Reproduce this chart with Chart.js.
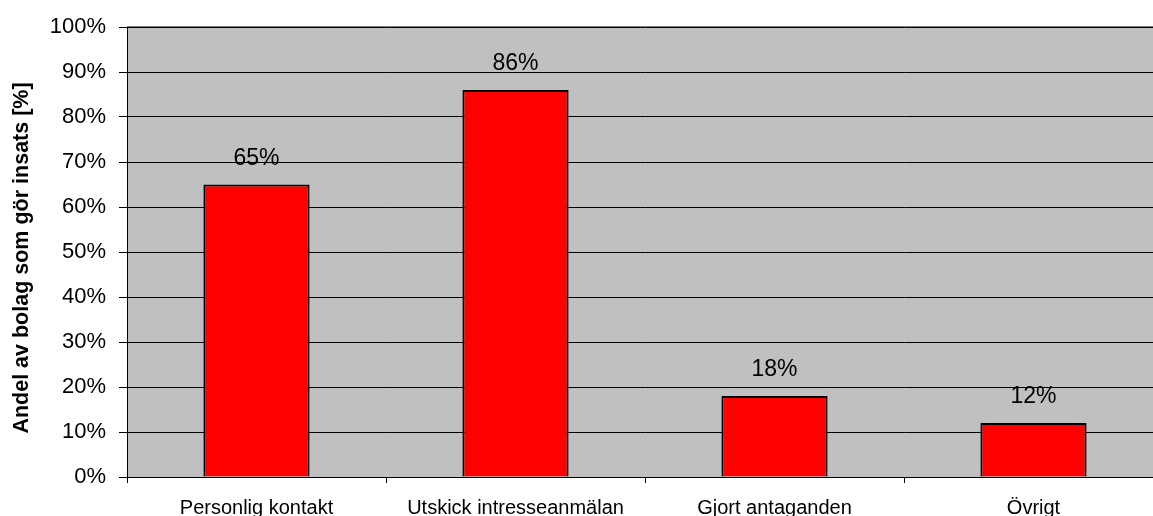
<!DOCTYPE html>
<html>
<head>
<meta charset="utf-8">
<script src="https://cdn.jsdelivr.net/npm/chart.js@4/dist/chart.umd.min.js"></script>
<style>
  html, body { margin: 0; padding: 0; background: #fff; overflow: hidden; }
  #wrap { width: 1163px; height: 516px; }
</style>
</head>
<body>
<div id="wrap"><canvas id="c"></canvas></div>
<script>
// Andel bolag per typ av insats
const categories = ["Personlig kontakt", "Utskick intresseanmälan", "Gjort antaganden", "Övrigt"];
const shares = [65, 86, 18, 12];
const yTicks = [0, 10, 20, 30, 40, 50, 60, 70, 80, 90, 100];
const yTitle = "Andel av bolag som gör insats [%]";

const FONT = "'Liberation Sans', Arial, sans-serif";

// Grå plotyta + grå ram upptill
const plotBg = {
  id: "plotBg",
  beforeDraw(chart) {
    const { ctx, chartArea: a } = chart;
    ctx.save();
    ctx.fillStyle = "#c0c0c0";
    ctx.fillRect(a.left, a.top, a.right - a.left, a.bottom - a.top);
    ctx.strokeStyle = "#808080";
    ctx.lineWidth = 1;
    ctx.beginPath();
    ctx.moveTo(a.left, a.top - 0.5);
    ctx.lineTo(a.right, a.top - 0.5);
    ctx.stroke();
    ctx.restore();
  },
};

// Procentetiketter ovanför staplarna + axeltitel (ritas själv för att kunna placeras fritt)
const labels = {
  id: "labels",
  afterDatasetsDraw(chart) {
    const { ctx, chartArea: a } = chart;
    const meta = chart.getDatasetMeta(0);
    ctx.save();
    ctx.font = "23px " + FONT;
    ctx.fillStyle = "#000";
    ctx.textAlign = "center";
    ctx.textBaseline = "alphabetic";
    meta.data.forEach((bar, i) => {
      ctx.fillText(shares[i] + "%", bar.x, bar.y - 20);
    });
    ctx.translate(22, (a.top + a.bottom) / 2 + 6);
    ctx.rotate(-Math.PI / 2);
    ctx.font = "bold 21.5px " + FONT;
    ctx.textBaseline = "middle";
    ctx.fillText(yTitle, 0, 0);
    ctx.restore();
  },
};

new Chart(document.getElementById("c"), {
  type: "bar",
  data: {
    labels: categories,
    datasets: [{
      data: shares,
      backgroundColor: "#ff0000",
      borderColor: "#000",
      borderWidth: 2,
      categoryPercentage: 1,
      barPercentage: 0.41,
    }],
  },
  options: {
    responsive: true,
    maintainAspectRatio: false,
    animation: false,
    layout: { padding: { top: 27, left: 0, right: 0, bottom: 0 } },
    plugins: { legend: { display: false }, tooltip: { enabled: false } },
    scales: {
      x: {
        grid: { offset: true, drawOnChartArea: false, color: "#000", tickLength: 6 },
        border: { color: "#000", width: 1 },
        ticks: { color: "#000", font: { family: FONT, size: 20 }, padding: 13, maxRotation: 0, autoSkip: false },
        afterFit: s => { s.height = 39; },
      },
      y: {
        min: 0, max: 100,
        afterBuildTicks: s => { s.ticks = yTicks.map(v => ({ value: v })); },
        grid: { color: "#000", tickLength: 8 },
        border: { color: "#000", width: 1 },
        ticks: { color: "#000", font: { family: FONT, size: 22 }, padding: 13, callback: v => v + "%" },
        afterFit: s => { s.width = 127; },
      },
    },
  },
  plugins: [plotBg, labels],
});
</script>
</body>
</html>
